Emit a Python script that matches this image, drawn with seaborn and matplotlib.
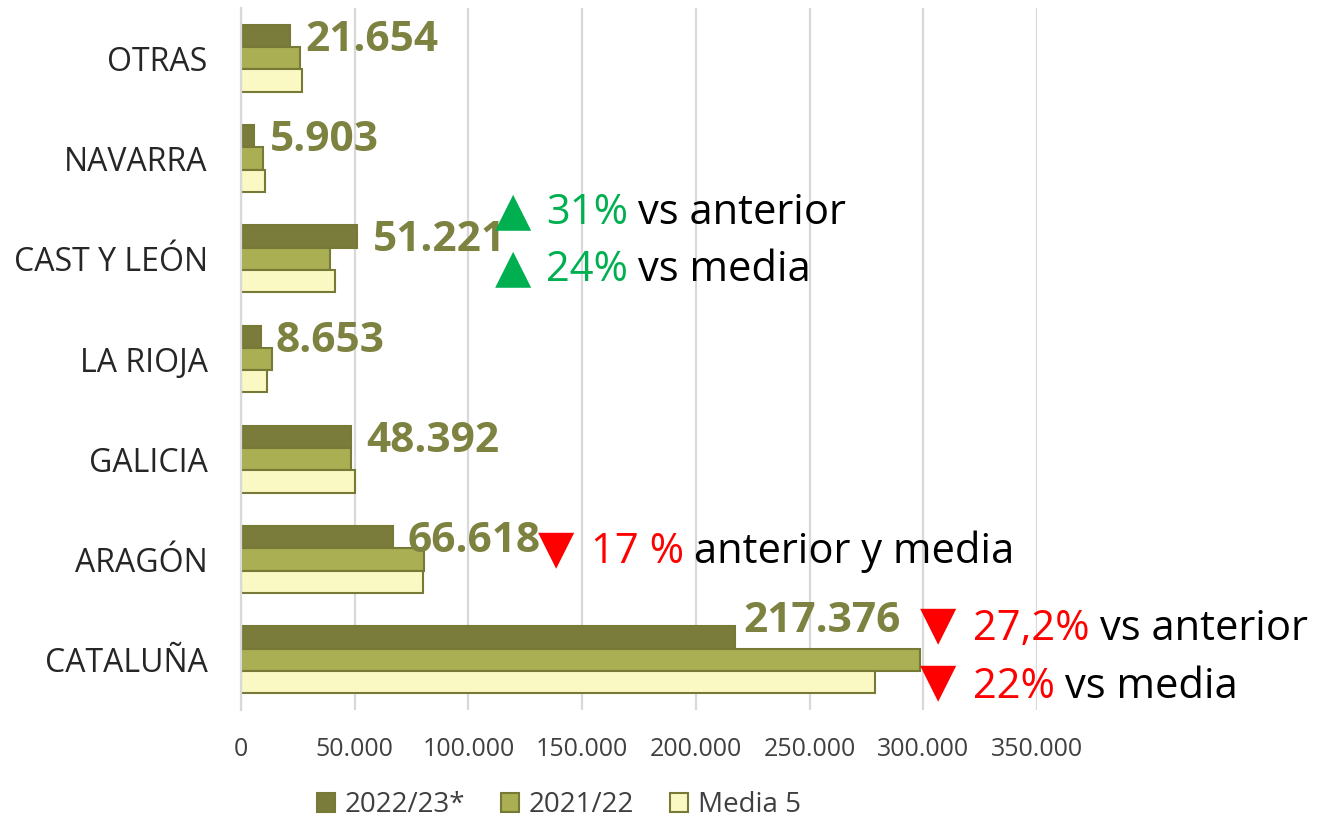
import matplotlib
matplotlib.use("Agg")
import matplotlib.pyplot as plt
import seaborn as sns
import pandas as pd
import numpy as np
from matplotlib.ticker import FuncFormatter

# ---- data ----
regions = ["OTRAS", "NAVARRA", "CAST Y LEÓN", "LA RIOJA", "GALICIA", "ARAGÓN", "CATALUÑA"]
series = ["2022/23*", "2021/22", "Media 5"]
v_2223 = [21654, 5903, 51221, 8653, 48392, 66618, 217376]
v_2122 = [25950, 9800, 39100, 13500, 48500, 80300, 298600]
v_media = [27000, 10500, 41300, 11300, 50100, 80000, 278700]
x_ticks = [0, 50000, 100000, 150000, 200000, 250000, 300000, 350000]

# ---- style ----
sns.set_style("white")
plt.rcParams["font.family"] = ["Open Sans", "DejaVu Sans"]

DARK = "#797C3A"
MID = "#A9AF52"
LIGHT = "#FAF9C4"
EDGE = "#767A36"
LABEL = "#7D8240"
GREEN = "#00B050"
RED = "#FF0000"
GRID = "#D9D9D9"

W, H = 1319, 822
fig = plt.figure(figsize=(W / 100, H / 100), dpi=100)
ax = fig.add_axes([241 / W, 1 - 710 / H, (1037 - 241) / W, (710 - 8) / H])

df = pd.DataFrame({
    "region": regions * 3,
    "serie": [series[0]] * 7 + [series[1]] * 7 + [series[2]] * 7,
    "value": v_2223 + v_2122 + v_media,
})

sns.barplot(data=df, y="region", x="value", hue="serie", order=regions,
            hue_order=series, palette=[DARK, MID, LIGHT], saturation=1,
            width=0.667, orient="h", ax=ax, edgecolor=EDGE, linewidth=1.5,
            errorbar=None)

ax.set_xlim(0, 350000)
ax.set_ylim(len(regions) - 0.5, -0.5)
ax.set_xticks(x_ticks)
ax.xaxis.set_major_formatter(FuncFormatter(lambda v, p: f"{int(v):,}".replace(",", ".")))
ax.set_xlabel("")
ax.set_ylabel("")
ax.xaxis.grid(True, color=GRID, lw=1.6)
ax.yaxis.grid(False)
ax.set_axisbelow(True)
for s in ["top", "right", "bottom"]:
    ax.spines[s].set_visible(False)
ax.spines["left"].set_color(GRID)
ax.spines["left"].set_linewidth(1.6)
ax.tick_params(axis="x", length=0, pad=19.5, labelsize=18, labelcolor="#404040")
ax.tick_params(axis="y", length=0, pad=24, labelsize=23, labelcolor="#262626")

# value labels on the 2022/23 bars
for i, bar in enumerate(ax.containers[0]):
    xv = bar.get_width()
    yc = bar.get_y() + bar.get_height() / 2
    dx, dy = (15, -15) if regions[i] != "CATALUÑA" else (8, 6)
    ax.annotate(f"{v_2223[i]:,}".replace(",", "."), xy=(xv, yc), xytext=(dx, dy),
                textcoords="offset pixels", ha="left", va="baseline",
                fontsize=30.5, fontweight="bold", color=LABEL, annotation_clip=False)

# legend
leg = ax.legend(loc="center", bbox_to_anchor=(559 / W, 1 - 805 / H),
                bbox_transform=fig.transFigure, ncol=3, frameon=False, fontsize=20,
                handlelength=0.65, handleheight=0.65, handletextpad=0.35, columnspacing=1.3)
for t in leg.get_texts():
    t.set_color("#404040")

# ---- comments ----
def fx(px):
    return px / W

def fy(py):
    return 1 - py / H

def note(tri, col, tri_cx, tri_base, pct, pct_x, base, rest):
    fig.text(fx(tri_cx), fy(tri_base), tri, color=col, fontsize=34, ha="center",
             va="baseline", family="DejaVu Sans")
    t = fig.text(fx(pct_x), fy(base), pct, color=col, fontsize=30, ha="left", va="baseline")
    ax.annotate(rest, xy=(1, 0), xycoords=t, xytext=(10, 0), textcoords="offset pixels",
                ha="left", va="bottom", fontsize=30, color="black", annotation_clip=False)

note("▲", GREEN, 513, 224, "31%", 546, 224, "vs anterior")
note("▲", GREEN, 513, 281, "24%", 546, 281, "vs media")
note("▼", RED, 556, 562, "17 %", 591, 563, "anterior y media")
note("▼", RED, 938, 638, "27,2%", 973, 640, "vs anterior")
note("▼", RED, 938, 695, "22%", 973, 698, "vs media")

fig.savefig("out.png", dpi=100)
